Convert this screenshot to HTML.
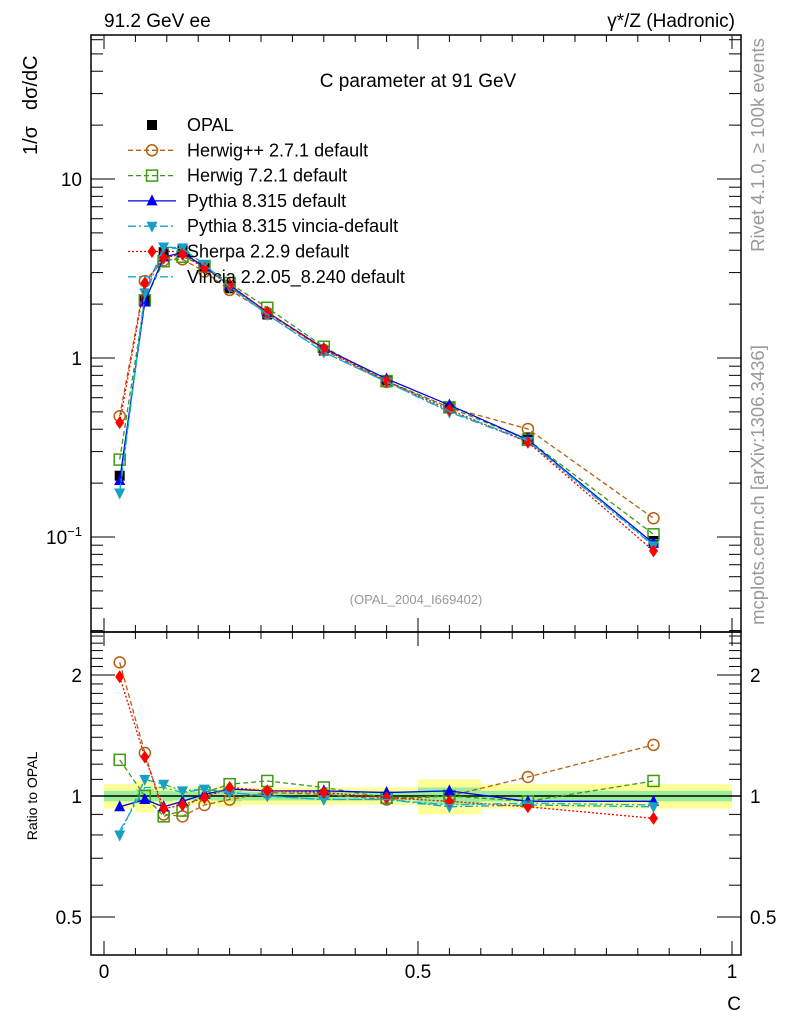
<!DOCTYPE html>
<html><head><meta charset="utf-8"><style>
body{margin:0;background:#fff}
svg{display:block;font-family:"Liberation Sans",sans-serif}
</style></head><body>
<svg id="c" width="786" height="1024" viewBox="0 0 786 1024">
<rect x="0" y="0" width="786" height="1024" fill="#fff"/>
<g id="bands"></g>
<g id="axes"></g>
<g id="series"></g>
<text x="104" y="27" font-size="19">91.2 GeV ee</text>
<text x="735" y="27" font-size="19" text-anchor="end">γ*/Z (Hadronic)</text>
<text x="418" y="87" font-size="19" text-anchor="middle">C parameter at 91 GeV</text>
<text x="416" y="604" font-size="13" fill="#999" text-anchor="middle">(OPAL_2004_I669402)</text>
<text transform="translate(37,155) rotate(-90)" font-size="20">1/σ<tspan dx="16">dσ/dC</tspan></text>
<text transform="translate(37,796) rotate(-90)" font-size="14" text-anchor="middle">Ratio to OPAL</text>
<text x="741" y="1010" font-size="19" text-anchor="end">C</text>
<text transform="translate(764,145) rotate(-90)" font-size="18.5" fill="#999" text-anchor="middle">Rivet 4.1.0, ≥ 100k events</text>
<text transform="translate(764,485) rotate(-90)" font-size="18.5" fill="#999" text-anchor="middle">mcplots.cern.ch [arXiv:1306.3436]</text>
<g id="legend"></g>
</svg>
<script>
const edges=[0,0.05,0.08,0.11,0.14,0.18,0.22,0.30,0.40,0.50,0.60,0.75,1.0];
const centers=[0.025,0.065,0.095,0.125,0.16,0.2,0.26,0.35,0.45,0.55,0.675,0.875];
const opal=[0.22,2.1,3.9,4.0,3.2,2.45,1.75,1.1,0.75,0.53,0.36,0.095];
const bandYellow=[0.07,0.09,0.06,0.05,0.05,0.06,0.05,0.05,0.05,0.1,0.07,0.07];
const bandGreen=[0.03,0.04,0.03,0.025,0.025,0.03,0.025,0.025,0.025,0.05,0.03,0.03];
const rHerwigpp=[2.15,1.28,0.90,0.89,0.95,0.98,1.02,1.01,0.98,1.0,1.115,1.34];
const rHerwig7=[1.23,1.0,0.89,0.92,1.02,1.07,1.09,1.05,0.99,1.0,0.97,1.09];
const rPythia=[0.94,0.98,0.94,0.97,1.01,1.04,1.03,1.03,1.02,1.03,0.97,0.97];
const rPyVincia=[0.80,1.1,1.07,1.03,1.04,1.02,1.0,0.98,0.98,0.94,0.95,0.94];
const rSherpa=[1.98,1.25,0.93,0.95,0.99,1.05,1.03,1.02,0.99,0.97,0.94,0.88];
const rVincia=[0.82,1.05,1.05,1.02,1.04,1.02,1.0,0.98,0.98,0.95,0.96,0.95];
const NS="http://www.w3.org/2000/svg";
const X=c=>104+628*c;
const Y=v=>358-179*Math.log10(v);
const R=r=>796-402*Math.log10(r);
function el(t,a,p){const e=document.createElementNS(NS,t);for(const k in a)e.setAttribute(k,a[k]);document.getElementById(p).appendChild(e);return e;}
for(let i=0;i<centers.length;i++){
 const y1=el('rect',{x:X(edges[i]),y:R(1+bandYellow[i]),width:X(edges[i+1])-X(edges[i]),height:R(1-bandYellow[i])-R(1+bandYellow[i]),fill:'#ffff99'},'bands');
 
 
 const g1=el('rect',{x:X(edges[i]),y:R(1+bandGreen[i]),width:X(edges[i+1])-X(edges[i]),height:R(1-bandGreen[i])-R(1+bandGreen[i]),fill:'#99ee99'},'bands');
 
 
}
const f1=el('rect',{x:91,y:35,width:650,height:597,fill:'none',stroke:'#000','stroke-width':1.5},'axes');


const f2=el('rect',{x:91,y:632,width:650,height:323,fill:'none',stroke:'#000','stroke-width':1.5},'axes');


const one=el('line',{x1:91,x2:741,y1:R(1),y2:R(1),stroke:'#000','stroke-width':1.5},'axes');


for(let k=0;k<=20;k++){const c=k*0.05, len=k%10==0?14:7, x=X(c);
 for(const [y0,d] of [[35,1],[632,-1],[632,1],[955,-1]]) el('line',{x1:x,x2:x,y1:y0,y2:y0+d*len,stroke:'#000'},'axes');}
[['0',0],['0.5',0.5],['1',1]].forEach(([t,c])=>{const e=el('text',{x:X(c),y:978,'font-size':19,'text-anchor':'middle'},'axes');e.textContent=t;
 
 });
for(let d=-2;d<=1;d++)for(let m=1;m<10;m++){const v=m*Math.pow(10,d),y=Y(v);if(y<35||y>632)continue;const L=m==1?24:12;
 el('line',{x1:91,x2:91+L,y1:y,y2:y,stroke:'#000'},'axes');el('line',{x1:741,x2:741-L,y1:y,y2:y,stroke:'#000'},'axes');}
[['10',10],['1',1]].forEach(([t,v])=>{const e=el('text',{x:82,y:Y(v)+7,'font-size':19,'text-anchor':'end'},'axes');e.textContent=t;
 
 });
{const e=el('text',{x:82,y:Y(0.1)+7,'font-size':19,'text-anchor':'end'},'axes');e.innerHTML='10<tspan dy="-8" font-size="13">−1</tspan>';
 
 }
for(let k=4;k<=25;k++){const r=k/10,y=R(r);if(y<632||y>955)continue;const L=(r==0.5||r==1||r==2)?24:12;
 el('line',{x1:91,x2:91+L,y1:y,y2:y,stroke:'#000'},'axes');el('line',{x1:741,x2:741-L,y1:y,y2:y,stroke:'#000'},'axes');}
[['2',2],['1',1],['0.5',0.5]].forEach(([t,r])=>{for(const [x,a] of [[82,'end'],[750,'start']]){const e=el('text',{x:x,y:R(r)+7,'font-size':19,'text-anchor':a},'axes');e.textContent=t;
 
 }});
function marker(type,x,y,col,p,s){s=s||5.5;let e;
 if(type=='sq')e=el('rect',{x:x-s,y:y-s,width:2*s,height:2*s,fill:col},p);
 else if(type=='osq')e=el('rect',{x:x-s,y:y-s,width:2*s,height:2*s,fill:'none',stroke:col,'stroke-width':1.5},p);
 else if(type=='oc')e=el('circle',{cx:x,cy:y,r:s,fill:'none',stroke:col,'stroke-width':1.5},p);
 else if(type=='tu')e=el('polygon',{points:`${x},${y-s-1} ${x-s},${y+s-1} ${x+s},${y+s-1}`,fill:col},p);
 else if(type=='td')e=el('polygon',{points:`${x},${y+s+1} ${x-s},${y-s+1} ${x+s},${y-s+1}`,fill:col},p);
 else if(type=='dm')e=el('polygon',{points:`${x},${y-s-1} ${x-s+1},${y} ${x},${y+s+1} ${x+s-1},${y}`,fill:col},p);
 if(e){}}
const series=[
 {name:'Herwig++ 2.7.1 default',r:rHerwigpp,col:'#b5600f',dash:'5,3',m:'oc'},
 {name:'Herwig 7.2.1 default',r:rHerwig7,col:'#3c9a14',dash:'5,3',m:'osq'},
 {name:'Pythia 8.315 default',r:rPythia,col:'#0000ee',dash:'',m:'tu'},
 {name:'Pythia 8.315 vincia-default',r:rPyVincia,col:'#1a9fc4',dash:'8,3,2,3',m:'td'},
 {name:'Sherpa 2.2.9 default',r:rSherpa,col:'#ff0000',dash:'2,2',m:'dm'},
 {name:'Vincia 2.2.05_8.240 default',r:rVincia,col:'#10b0d0',dash:'8,3,2,3',m:''}
];
for(let i=0;i<centers.length;i++){marker('sq',X(centers[i]),Y(opal[i]),'#000','series',5);}
series.forEach(s=>{
 const pm=centers.map((c,i)=>X(c)+','+Y(opal[i]*s.r[i])).join(' ');
 const pr=centers.map((c,i)=>X(c)+','+R(s.r[i])).join(' ');
 const l1=el('polyline',{points:pm,fill:'none',stroke:s.col,'stroke-width':1.3,'stroke-dasharray':s.dash},'series');
 
 
 const l2=el('polyline',{points:pr,fill:'none',stroke:s.col,'stroke-width':1.3,'stroke-dasharray':s.dash},'series');
 
 
 centers.forEach((c,i)=>{marker(s.m,X(c),Y(opal[i]*s.r[i]),s.col,'series');marker(s.m,X(c),R(s.r[i]),s.col,'series');});
});
const leg=[{name:'OPAL',m:'sq',col:'#000',dash:null}].concat(series);
leg.forEach((s,i)=>{const y=125+i*25.3;
 if(s.dash!==null){const l=el('line',{x1:128,x2:176,y1:y,y2:y,stroke:s.col,'stroke-width':1.3,'stroke-dasharray':s.dash},'legend');
  }
 marker(s.m,152,y,s.col,'legend',s.m=='sq'?5:5.5);
 const t=el('text',{x:187,y:y+6,'font-size':18},'legend');t.textContent=s.name;
 
 
});
</script>
</body></html>
